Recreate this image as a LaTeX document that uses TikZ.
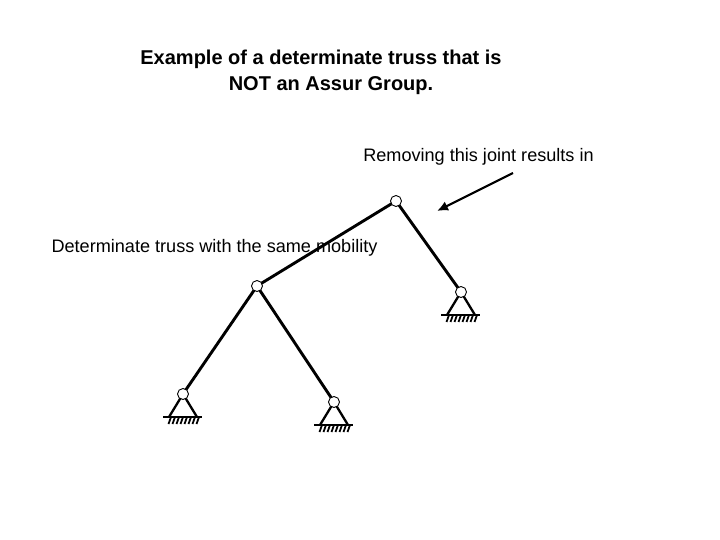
\documentclass[tikz,border=0pt]{standalone}
\usepackage{fontspec}
\setmainfont{Liberation Sans}
\usetikzlibrary{arrows.meta,calc}
\begin{document}
\begin{tikzpicture}[
  x=1pt,y=-1pt,
  lab/.style={font=\fontsize{18.1}{26}\selectfont,align=center,inner sep=0pt},
  ttl/.style={font=\fontsize{20}{26}\selectfont\bfseries,align=center,inner sep=0pt},
  joint/.style={draw,circle,fill=white,line width=0.9pt,minimum size=11pt,inner sep=0pt},
  bar/.style={line width=2.9pt},
  sup/.style={line width=2.3pt},
  gnd/.style={line width=1.7pt},
  hat/.style={line width=1.8pt},
  arr/.style={-{Latex[length=11pt,width=10pt]},line width=2.2pt}
]
  \useasboundingbox (0,0) rectangle (720,540);

  \node[ttl] (title) at (321,72.5) {Example of a determinate truss that is\\\hspace*{20pt}NOT an Assur Group.};
  \node[lab] (remove) at (478.5,157) {Removing this joint results in};
  \node[lab] (same) at (214.5,248) {Determinate truss with the same mobility};

  \coordinate (tail) at (513,173);
  \coordinate (head) at (437,211);
  \draw[arr] (tail) -- (head);

  % bars first, joints go on top
  \coordinate (a) at (396,201);
  \coordinate (b) at (257,286);
  \coordinate (c) at (461,292);
  \coordinate (d) at (183,394);
  \coordinate (e) at (334,402);
  \draw[bar] (a) -- (b);
  \draw[bar] (a) -- (c);
  \draw[bar] (b) -- (d);
  \draw[bar] (b) -- (e);

  % supports
  \foreach \sn in {c,d,e} {
    \coordinate (\sn l) at ($(\sn)+(-14,23)$);
    \coordinate (\sn r) at ($(\sn)+(14,23)$);
    \coordinate (\sn gl) at ($(\sn)+(-20,23)$);
    \coordinate (\sn gr) at ($(\sn)+(19,23)$);
    \draw[sup] (\sn l) -- (\sn) -- (\sn r);
    \draw[gnd] (\sn gl) -- (\sn gr);
    \foreach \i in {0,...,7} {
      \draw[hat] ($(\sn)+(-12+\i*4,23)$) -- ++(-2.5,7);
    }
  }

  \node[joint] (ja) at (a) {};
  \node[joint] (jb) at (b) {};
  \node[joint] (jc) at (c) {};
  \node[joint] (jd) at (d) {};
  \node[joint] (je) at (e) {};
\end{tikzpicture}
\end{document}
